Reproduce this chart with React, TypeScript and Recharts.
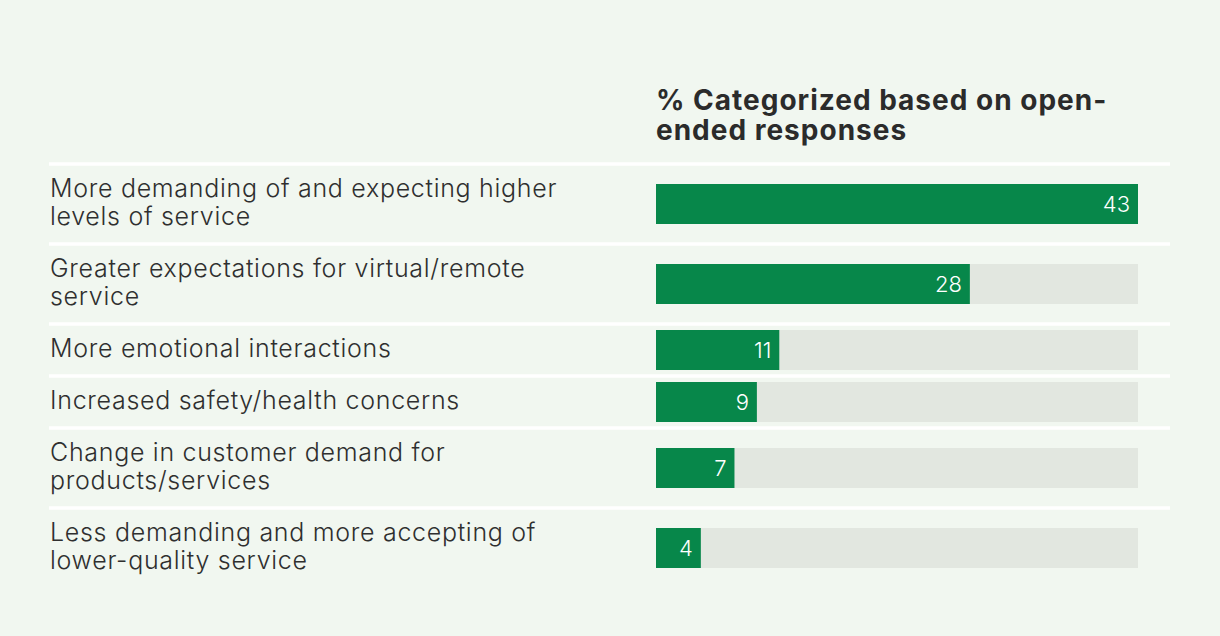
import React from 'react';
import { BarChart, Bar, XAxis, YAxis, ReferenceLine, LabelList } from 'recharts';

const categories = [
  'More demanding of and expecting higher\nlevels of service',
  'Greater expectations for virtual/remote\nservice',
  'More emotional interactions',
  'Increased safety/health concerns',
  'Change in customer demand for\nproducts/services',
  'Less demanding and more accepting of\nlower-quality service',
];
const values = [43, 28, 11, 9, 7, 4];
const titleLines = ['% Categorized based on open-', 'ended responses'];

const W = 1220;
const H = 636;
const TOP = 164;
const ROW_PAD = 24;
const LINE_H = 28;
const FONT = 'Inter, "Noto Sans", sans-serif';
const BG = '#f1f7f0';
const GREEN = '#07874a';
const TRACK = '#e2e7e0';
const TEXT = '#2f2f2f';

type Row = { name: string; lines: string[]; value: number; start: number; mid: number };

const rows: Row[] = [];
let cum = 0;
categories.forEach((c, i) => {
  const lines = c.split('\n');
  const h = ROW_PAD + LINE_H * lines.length;
  rows.push({ name: c, lines, value: values[i], start: cum, mid: cum + h / 2 });
  cum += h;
});
const total = cum;
const maxVal = Math.max(...values);

const Tick = (props: any) => {
  const { y, payload } = props;
  const row = rows.find((r) => r.mid === payload.value);
  if (!row) return null;
  const n = row.lines.length;
  return (
    <text fill={TEXT} fontSize={25} fontWeight={300} fontFamily={FONT} letterSpacing={0.7}>
      {row.lines.map((l, i) => (
        <tspan key={i} x={50} y={y + 7 - 14 * (n - 1) + LINE_H * i}>
          {l}
        </tspan>
      ))}
    </text>
  );
};

const Sep = (props: any) => (
  <line x1={49} x2={1170} y1={props.y1} y2={props.y2} stroke="#ffffff" strokeWidth={3.5} />
);

export default function App() {
  return (
    <div style={{ position: 'absolute', left: 0, top: 0, width: W, height: H, background: BG }}>
      <div
        style={{
          position: 'absolute',
          left: 656,
          top: 85,
          fontFamily: FONT,
          fontSize: 28,
          fontWeight: 700,
          lineHeight: '30px',
          letterSpacing: 1,
          color: '#2b2b2b',
          whiteSpace: 'nowrap',
        }}
      >
        {titleLines.map((t, i) => (
          <div key={i}>{t}</div>
        ))}
      </div>
      <BarChart
        width={W}
        height={H}
        data={rows}
        layout="vertical"
        margin={{ top: TOP, bottom: H - TOP - total, left: 0, right: 82 }}
        style={{ position: 'absolute', left: 0, top: 0 }}
      >
        <XAxis type="number" domain={[0, maxVal]} hide />
        <YAxis
          type="number"
          dataKey="mid"
          domain={[0, total]}
          ticks={rows.map((r) => r.mid)}
          interval={0}
          axisLine={false}
          tickLine={false}
          width={656}
          tick={<Tick />}
        />
        {rows.map((r, i) => (
          <ReferenceLine key={i} y={r.start} shape={<Sep />} />
        ))}
        <Bar dataKey="value" fill={GREEN} barSize={40} background={{ fill: TRACK }} isAnimationActive={false}>
          <LabelList
            dataKey="value"
            position="insideRight"
            offset={8}
            fill="#ffffff"
            fontSize={22}
            fontWeight={300}
            fontFamily={FONT}
          />
        </Bar>
      </BarChart>
    </div>
  );
}
